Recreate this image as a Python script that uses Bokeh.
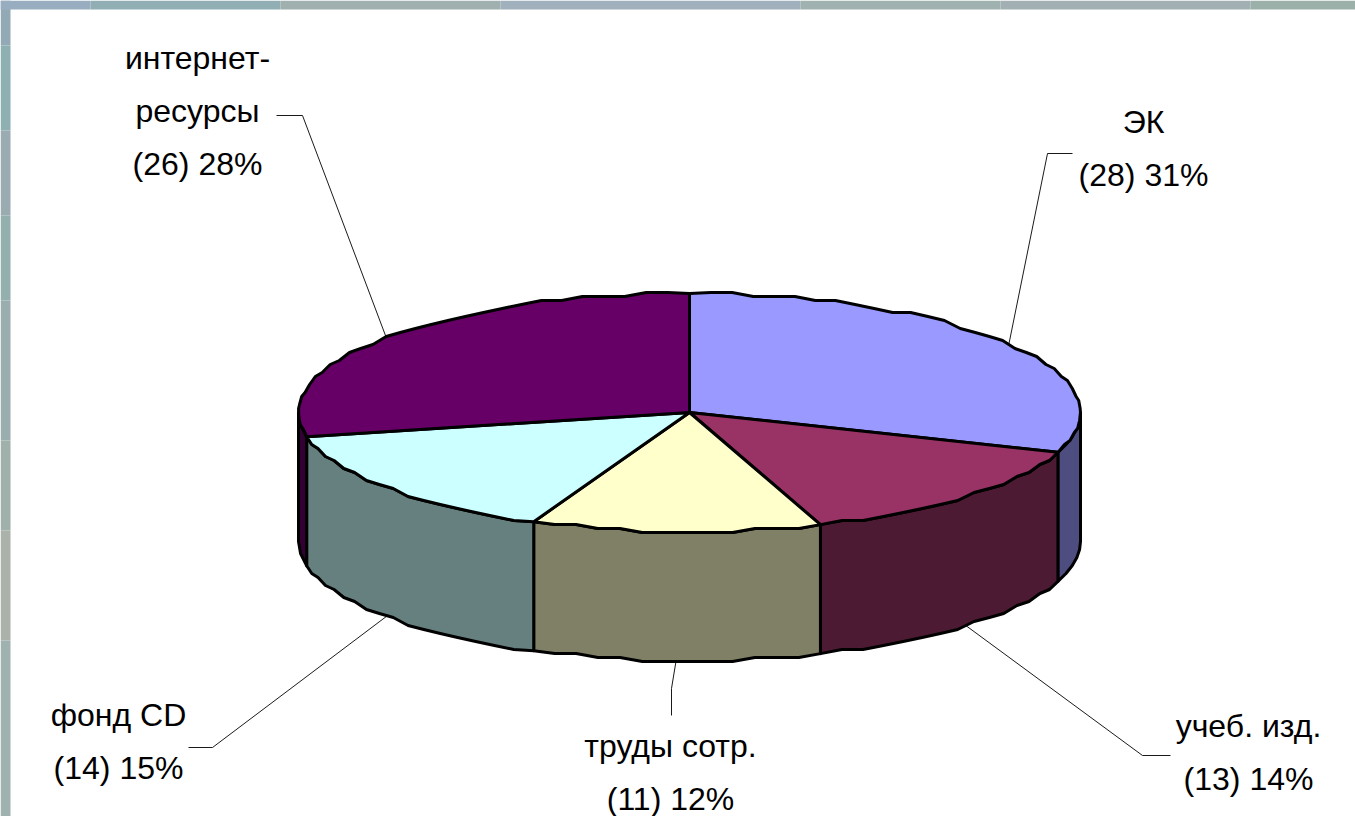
import numpy as np
from bokeh.plotting import figure
from bokeh.models import Range1d
from bokeh.core.properties import value
from bokeh.embed import file_html
from bokeh.resources import INLINE

# --- data ---
categories = ["ЭК", "учеб. изд.", "труды сотр.", "фонд CD", "интернет-\nресурсы"]
counts = [28, 13, 11, 14, 26]
percents = [31, 14, 12, 15, 28]
top_colors = ["#9999FF", "#993366", "#FFFFCC", "#CCFFFF", "#660066"]
side_colors = ["#4D4D80", "#4D1A33", "#808066", "#668080", "#330033"]

# --- layout ---
W, H = 1355, 816
CX, CY, RX, RY, DEPTH = 689.0, 412.0, 391.0, 119.0, 129.0
GRID_Y = 4.0
FONT = "Liberation Sans"
FS = "32px"
LINE_H = 53

left_band = [(0, 45, "#93aab6"), (45, 130, "#8fb0b3"), (130, 215, "#9aacb1"), (215, 300, "#94b0ae"),
             (300, 440, "#9aaeb0"), (440, 530, "#a0b0aa"), (530, 640, "#aab2aa"), (640, 816, "#a0b2b0")]
top_band = [(0, 90, "#98aec0"), (90, 280, "#90aeb4"), (280, 500, "#a0b0ae"), (500, 800, "#a0b0bc"),
            (800, 1000, "#a0b2b0"), (1000, 1250, "#a2b0b4"), (1250, 1355, "#9cb0aa")]

label_pos = {  # centre x, y of first line
    0: (1143, 121), 1: (1248, 725), 2: (670, 745), 3: (118, 714), 4: (197, 57)}
elbows = {  # (elbow x, elbow y, end x)
    0: (1047, 153, 1072), 1: (1142, 755, 1170), 2: (671, 688, 671), 3: (212, 747, 188), 4: (302, 115, 276)}
elbow_end_y = {2: 715}

p = figure(width=W, height=H, x_range=Range1d(0, W), y_range=Range1d(H, 0),
           output_backend="svg", toolbar_location=None, min_border=0,
           background_fill_color="white", border_fill_color="white", outline_line_color=None)
p.axis.visible = False
p.grid.visible = False

for y0, y1, c in left_band:
    p.quad(left=0, right=10, top=y0, bottom=y1, fill_color=c, line_color=None)
for x0, x1, c in top_band:
    p.quad(left=x0, right=x1, top=0, bottom=9, fill_color=c, line_color=None)

vals = np.array(counts, dtype=float)
edges = np.concatenate([[0], np.cumsum(vals) / vals.sum() * 2 * np.pi])


def arc(a0, a1, dy=0.0):
    n = max(2, int(abs(a1 - a0) / np.radians(3.0)))
    t = np.linspace(a0, a1, n)
    x = CX + RX * np.sin(t)
    y = np.round((CY - RY * np.cos(t)) / GRID_Y) * GRID_Y
    y[0], y[-1] = CY - RY * np.cos(a0), CY - RY * np.cos(a1)
    return x, y + dy


# side walls (only the front half of the ring)
for i in range(5):
    a0 = max(edges[i], np.pi / 2)
    a1 = min(edges[i + 1], 3 * np.pi / 2)
    if a1 <= a0:
        continue
    x, y = arc(a0, a1)
    xb, yb = arc(a0, a1, DEPTH)
    p.patch(np.r_[x, xb[::-1]], np.r_[y, yb[::-1]], fill_color=side_colors[i],
            line_color="black", line_width=3, line_join="round")

# top faces
for i in range(5):
    x, y = arc(edges[i], edges[i + 1])
    p.patch(np.r_[CX, x], np.r_[CY, y], fill_color=top_colors[i],
            line_color="black", line_width=3, line_join="round")

# leader lines and labels
for i, (cat, n, pc) in enumerate(zip(categories, counts, percents)):
    mid = (edges[i] + edges[i + 1]) / 2
    ax = CX + RX * np.sin(mid)
    ay = CY - RY * np.cos(mid) + (DEPTH if np.cos(mid) < 0 else 0)
    ex, ey, endx = elbows[i]
    p.line([ax, ex, endx], [ay, ey, elbow_end_y.get(i, ey)], line_color="black", line_width=0.9)
    lines = cat.split("\n") + [f"({n}) {pc}%"]
    lx, ly = label_pos[i]
    for k, s in enumerate(lines):
        p.text([lx], [ly + k * LINE_H], text=[s], text_align="center", text_baseline="middle",
               text_font=value(FONT), text_font_size=value(FS), text_color="black")

html = file_html(p, INLINE)
html = html.replace("<head>", "<head><style>html,body{margin:0;padding:0;overflow:hidden}</style>", 1)
open("out.html", "w").write(html)
